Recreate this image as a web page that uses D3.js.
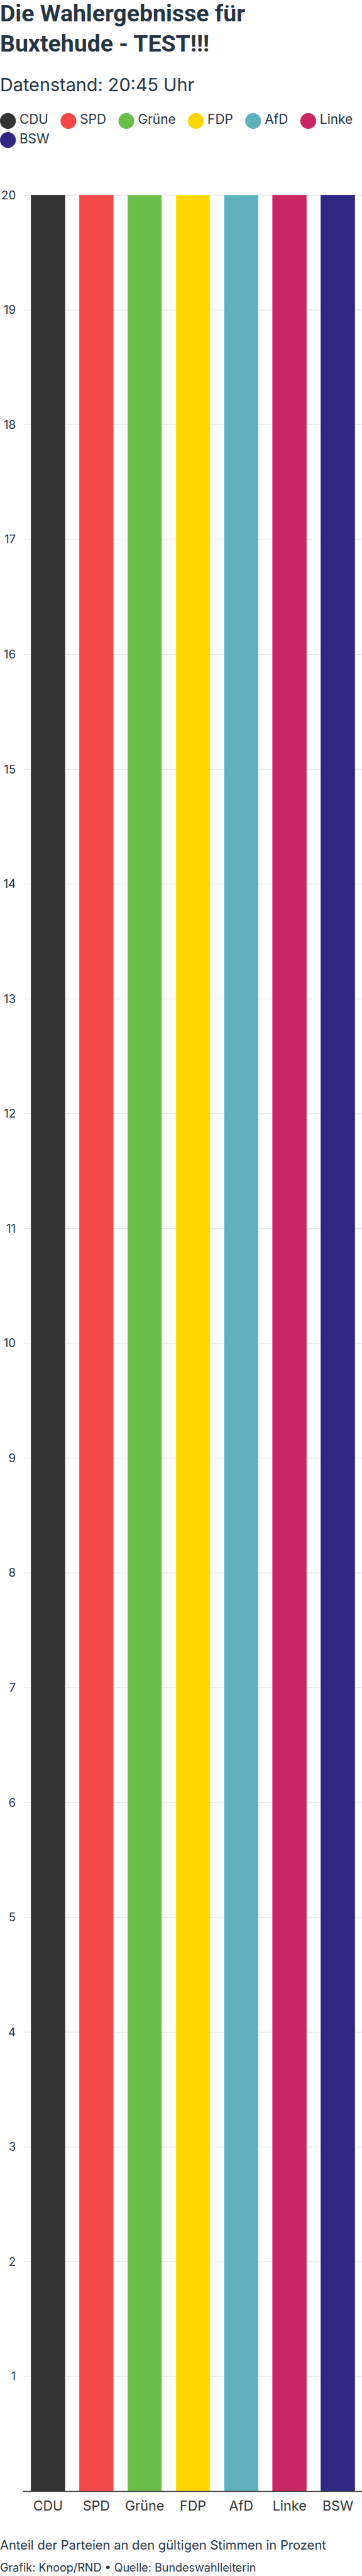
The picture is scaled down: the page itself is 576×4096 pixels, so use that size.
<!DOCTYPE html>
<html>
<head>
<meta charset="utf-8">
<script src="https://cdn.jsdelivr.net/npm/d3@7"></script>
<style>
  html, body { margin: 0; padding: 0; background: #ffffff; }
  svg { display: block; }
</style>
</head>
<body>
<svg id="chart" width="576" height="4096"></svg>
<script>
// ---- data ----
const parties = ["CDU", "SPD", "Grüne", "FDP", "AfD", "Linke", "BSW"];
const values = [20, 20, 20, 20, 20, 20, 20];
const colors = ["#333333", "#F34848", "#6ABF4B", "#FFD600", "#60B0BE", "#C72864", "#322683"];
const yTickValues = [1, 2, 3, 4, 5, 6, 7, 8, 9, 10, 11, 12, 13, 14, 15, 16, 17, 18, 19, 20];
const titleLines = ["Die Wahlergebnisse für", "Buxtehude - TEST!!!"];
const subtitle = "Datenstand: 20:45 Uhr";
const footerLines = ["Anteil der Parteien an den gültigen Stimmen in Prozent",
                     "Grafik: Knoop/RND • Quelle: Bundeswahlleiterin"];

// ---- layout (reference pixel space, scaled by 0.72) ----
const S = 0.72;
const W = 800;
const ink = "#263544";
const sans = "Inter, 'Noto Sans', sans-serif";
const head = "Roboto, 'DejaVu Sans', sans-serif";

const svg = d3.select("#chart");
const root = svg.append("g").attr("transform", `scale(${S})`);

// title (font size fitted to the reference line widths)
const titleTargets = [565, 478];
const titleSel = root.append("g").selectAll("text").data(titleLines).join("text")
  .attr("x", 0)
  .attr("y", (d, i) => 46.7 + i * 67.6)
  .attr("font-family", head)
  .attr("font-weight", 700)
  .attr("font-size", 48)
  .attr("fill", ink)
  .text(d => d);
let fit = 0;
titleSel.each(function(d, i) { fit += titleTargets[i] / this.getComputedTextLength(); });
fit /= titleLines.length;
titleSel.attr("font-size", Math.min(52, Math.max(44, 48 * fit)));

// subtitle
root.append("text")
  .attr("x", 0).attr("y", 201.7)
  .attr("font-family", sans)
  .attr("font-size", 40)
  .attr("fill", ink)
  .text(subtitle);

// legend (flow layout)
const legend = root.append("g");
const r = 17.5, gapText = 8, gapItem = 27, rowH = 42;
let lx = 0, ly = 267.3;
parties.forEach((p, i) => {
  const g = legend.append("g");
  const t = g.append("text")
    .attr("font-family", sans).attr("font-size", 29).attr("fill", ink)
    .text(p);
  const tw = t.node().getComputedTextLength();
  const itemW = 2 * r + gapText + tw;
  if (lx + itemW > W && lx > 0) { lx = 0; ly += rowH; }
  g.append("circle").attr("cx", lx + r).attr("cy", ly).attr("r", r).attr("fill", colors[i]);
  t.attr("x", lx + 2 * r + gapText).attr("y", ly + 7);
  lx += itemW + gapItem;
});

// scales
const x = d3.scaleBand().domain(parties).range([52.7, 800]).paddingInner(0.3).paddingOuter(0.15);
const y = d3.scaleLinear().domain([0, 20]).range([5502, 431]);

// gridlines
root.append("g").selectAll("line").data(yTickValues).join("line")
  .attr("x1", 52.7).attr("x2", 800)
  .attr("y1", d => y(d)).attr("y2", d => y(d))
  .attr("stroke", "#e4e4e4").attr("stroke-width", 1.6);

// y labels
root.append("g").selectAll("text").data(yTickValues).join("text")
  .attr("x", 35).attr("y", d => y(d))
  .attr("text-anchor", "end")
  .attr("dominant-baseline", "central")
  .attr("font-family", sans).attr("font-size", 26).attr("fill", ink)
  .text(d => d);

// bars
root.append("g").selectAll("rect").data(parties).join("rect")
  .attr("x", d => x(d))
  .attr("y", (d, i) => y(values[i]))
  .attr("width", x.bandwidth())
  .attr("height", (d, i) => y(0) - y(values[i]))
  .attr("fill", (d, i) => colors[i])
  .attr("stroke", (d, i) => d3.color(colors[i]).brighter(0.4))
  .attr("stroke-width", 1);

// x axis line
root.append("line")
  .attr("x1", 51).attr("x2", 800)
  .attr("y1", y(0)).attr("y2", y(0))
  .attr("stroke", "#333333").attr("stroke-width", 2.2);

// x labels
root.append("g").selectAll("text").data(parties).join("text")
  .attr("x", d => x(d) + x.bandwidth() / 2)
  .attr("y", 5544.3)
  .attr("text-anchor", "middle")
  .attr("font-family", sans).attr("font-size", 30).attr("fill", "#333333")
  .text(d => d);

// footer
root.append("g").selectAll("text").data(footerLines).join("text")
  .attr("x", 0)
  .attr("y", (d, i) => i === 0 ? 5630.7 : 5679.3)
  .attr("font-family", sans)
  .attr("font-size", (d, i) => i === 0 ? 28 : 25)
  .attr("fill", ink)
  .text(d => d);
</script>
</body>
</html>
